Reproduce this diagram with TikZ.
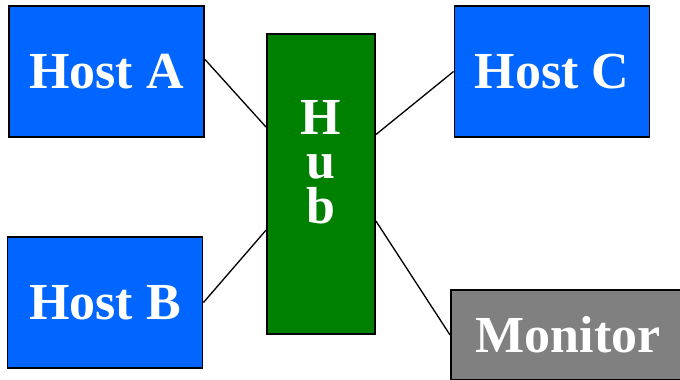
\documentclass[tikz,border=0pt]{standalone}
\usepackage{fontspec}
\setmainfont{Liberation Serif}
\usetikzlibrary{positioning}
\definecolor{hostblue}{RGB}{0, 102, 255}
\definecolor{hubgreen}{RGB}{0, 128, 0}
\definecolor{monitorgray}{RGB}{128, 128, 128}

\begin{document}
\begin{tikzpicture}[
    x=0.02cm, y=-0.02cm,
    box/.style={rectangle, draw=black, line width=1.1pt, inner sep=0pt, text=white,
        font=\bfseries\fontsize{29.6}{25.2}\selectfont},
    host/.style={box, fill=hostblue, minimum width=3.9cm, minimum height=2.62cm},
    hubbox/.style={box, fill=hubgreen, minimum width=2.16cm, minimum height=6cm},
    monitorbox/.style={box, fill=monitorgray, minimum width=4.68cm, minimum height=1.8cm},
    hubtext/.style={text=white, align=center, inner sep=0pt,
        font=\bfseries\fontsize{29.6}{25.2}\selectfont},
    link/.style={line width=0.75pt}
]
\useasboundingbox (0,0) rectangle (680,379);
\clip (0,0) rectangle (680,379);

% Hosts
\node[host] (hostA) at (106.5,71.5) {Host A};
\node[host] (hostB) at (105,302.5) {Host B};
\node[host] (hostC) at (552,71.5) {Host C};

% Hub
\node[hubbox] (hub) at (321,184) {};
\node[hubtext] (hublabel) at (321,162) {H\\u\\b};

% Monitor
\node[monitorbox] (monitor) at (568,335) {Monitor};

% Links
\draw[link] (hostA.7) -- (hub.134);
\draw[link] (hostB.east) -- (hub.220);
\draw[link] (hostC.west) -- (hub.42);
\draw[link] (monitor.west) -- (hub.-34);

\end{tikzpicture}
\end{document}
